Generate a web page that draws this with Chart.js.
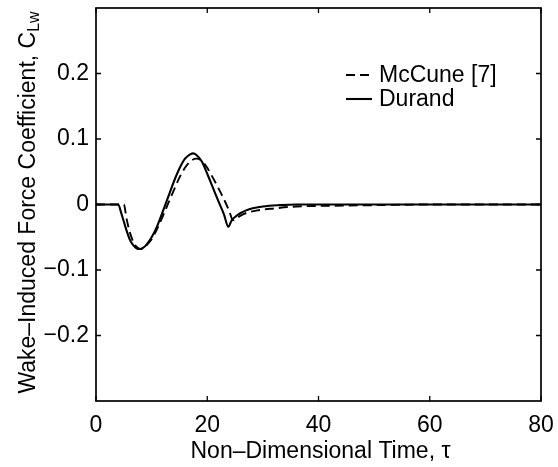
<!DOCTYPE html>
<html><head><meta charset="utf-8">
<script src="https://cdn.jsdelivr.net/npm/chart.js@4.4.1/dist/chart.umd.min.js"></script>
<style>html,body{margin:0;padding:0;background:#fff;}#wrap{width:558px;height:467px;}</style>
</head><body><div id="wrap"><canvas id="c" width="558" height="467"></canvas></div>
<script>
const durandT  = [0,4,4.5,5,5.5,6,6.5,7,7.5,8,8.5,9,10,11,12,13,14,15,16,17,17.5,18,19,20,21,22,23,23.8,24.4,25,26,27,28,30,33,36,80];
const durandCL = [0,0,-0.012,-0.026,-0.04,-0.052,-0.06,-0.065,-0.068,-0.068,-0.066,-0.062,-0.05,-0.033,-0.011,0.012,0.035,0.055,0.07,0.077,0.078,0.076,0.066,0.047,0.026,0.005,-0.015,-0.034,-0.024,-0.019,-0.013,-0.009,-0.006,-0.003,-0.001,0,0];
const mccuneT  = [0,5,5.5,6,6.5,7,7.5,8,8.5,9,10,11,12,13,14,15,16,17,18,19,20,21,22,23,24,24.6,25.3,26,27,29,32,36,42,50,60,80];
const mccuneCL = [0,0,-0.022,-0.04,-0.053,-0.062,-0.066,-0.068,-0.067,-0.063,-0.053,-0.037,-0.018,0.002,0.022,0.041,0.056,0.066,0.07,0.067,0.056,0.041,0.025,0.008,-0.011,-0.024,-0.021,-0.017,-0.013,-0.009,-0.006,-0.003,-0.002,-0.001,0,0];
const xTicks = [0,20,40,60,80];
const yTicks = [-0.2,-0.1,0,0.1,0.2];
const seriesLabels = ['McCune [7]','Durand'];
const xTitle = 'Non\u2013Dimensional Time, \u03c4';
const yTitleMain = 'Wake\u2013Induced Force Coefficient, C';
const yTitleSub = 'Lw';

const FONT = '"Liberation Sans", Arial, Helvetica, sans-serif';
const toXY = (t, v) => t.map((x, i) => ({x: x, y: v[i]}));

const framePlugin = {
  id: 'frame',
  afterDraw(chart) {
    const ctx = chart.ctx;
    const {left, right, top, bottom} = chart.chartArea;
    const xs = chart.scales.x, ys = chart.scales.y;
    ctx.save();
    ctx.strokeStyle = '#000';
    ctx.lineWidth = 1.7;
    ctx.strokeRect(left, top, right - left, bottom - top);
    ctx.lineWidth = 1.3;
    const tl = 5;
    ctx.beginPath();
    xTicks.forEach(v => {
      const p = xs.getPixelForValue(v);
      ctx.moveTo(p, bottom); ctx.lineTo(p, bottom - tl);
      ctx.moveTo(p, top); ctx.lineTo(p, top + tl);
    });
    yTicks.forEach(v => {
      const p = ys.getPixelForValue(v);
      ctx.moveTo(left, p); ctx.lineTo(left + tl, p);
      ctx.moveTo(right, p); ctx.lineTo(right - tl, p);
    });
    ctx.stroke();

    // x title
    ctx.fillStyle = '#000';
    ctx.font = '23px ' + FONT;
    ctx.textAlign = 'center';
    ctx.textBaseline = 'alphabetic';
    ctx.fillText(xTitle, (left + right) / 2 + 2, 458);

    // y title with subscript
    ctx.save();
    const cx = 35, cy = (top + bottom) / 2 - 2;
    ctx.translate(cx, cy);
    ctx.rotate(-Math.PI / 2);
    ctx.font = '23px ' + FONT;
    const wMain = ctx.measureText(yTitleMain).width;
    ctx.font = '16px ' + FONT;
    const wSub = ctx.measureText(yTitleSub).width;
    const start = -(wMain + wSub) / 2;
    ctx.textAlign = 'left';
    ctx.font = '23px ' + FONT;
    ctx.fillText(yTitleMain, start, 0);
    ctx.font = '16px ' + FONT;
    ctx.fillText(yTitleSub, start + wMain, 4);
    ctx.restore();

    // legend
    const rows = [75, 99];
    chart.data.datasets.forEach((ds, i) => {
      const y = rows[i];
      ctx.save();
      ctx.strokeStyle = ds.borderColor;
      ctx.lineWidth = ds.borderWidth;
      ctx.setLineDash(ds.borderDash || []);
      ctx.beginPath();
      ctx.moveTo(346, y); ctx.lineTo(372, y);
      ctx.stroke();
      ctx.restore();
      ctx.font = '23px ' + FONT;
      ctx.textAlign = 'left';
      ctx.textBaseline = 'middle';
      ctx.fillText(ds.label, 379, y + 1);
    });
    ctx.restore();
  }
};

new Chart(document.getElementById('c'), {
  type: 'line',
  data: {
    datasets: [
      {label: seriesLabels[0], data: toXY(mccuneT, mccuneCL), borderColor: '#000', borderWidth: 1.9, borderDash: [9, 5], pointRadius: 0, cubicInterpolationMode: 'monotone', fill: false},
      {label: seriesLabels[1], data: toXY(durandT, durandCL), borderColor: '#000', borderWidth: 2.1, pointRadius: 0, cubicInterpolationMode: 'monotone', fill: false}
    ]
  },
  options: {
    responsive: false,
    animation: false,
    events: [],
    layout: {padding: {top: 8, right: 17, left: 0, bottom: 0}},
    plugins: {legend: {display: false}, tooltip: {enabled: false}},
    scales: {
      x: {
        type: 'linear', min: 0, max: 80,
        afterBuildTicks: s => { s.ticks = xTicks.map(v => ({value: v})); },
        afterFit: s => { s.height = 66; s.paddingLeft = 0; s.paddingRight = 0; },
        grid: {display: false, drawTicks: false},
        border: {display: false},
        ticks: {color: '#000', font: {size: 23, family: FONT}, padding: 11, maxRotation: 0, callback: v => String(v)}
      },
      y: {
        type: 'linear', min: -0.3, max: 0.3,
        afterBuildTicks: s => { s.ticks = yTicks.map(v => ({value: v})); },
        afterFit: s => { s.width = 96; s.paddingTop = 0; s.paddingBottom = 0; },
        grid: {display: false, drawTicks: false},
        border: {display: false},
        ticks: {color: '#000', font: {size: 23, family: FONT}, padding: 7,
          callback: v => Math.abs(v) < 1e-9 ? '0' : (v < 0 ? '\u2212' + Math.abs(v).toFixed(1) : v.toFixed(1))}
      }
    }
  },
  plugins: [framePlugin]
});
</script></body></html>
